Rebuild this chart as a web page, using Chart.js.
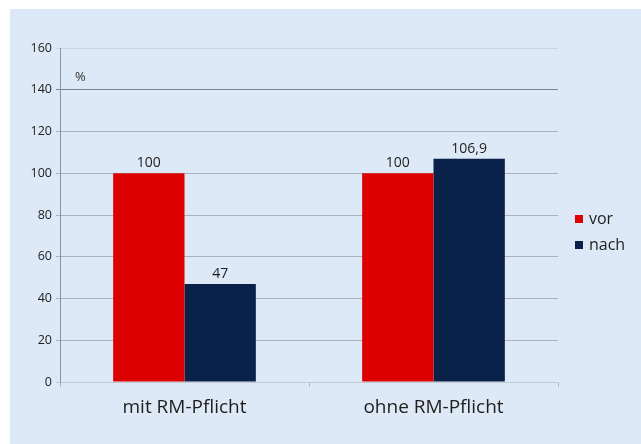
<!DOCTYPE html>
<html>
<head>
<meta charset="utf-8">
<script src="https://cdn.jsdelivr.net/npm/chart.js@4"></script>
<style>
  html, body { margin: 0; padding: 0; background: #ffffff; }
  #wrap { width: 641px; height: 444px; position: relative; }
</style>
</head>
<body>
<div id="wrap"><canvas id="c" width="641" height="444"></canvas></div>
<script>
// Kategorien und Werte (Index, vorher = 100)
const categories = ['mit RM-Pflicht', 'ohne RM-Pflicht'];
const seriesLabels = ['vor', 'nach'];
const vorValues = [100, 100];
const nachValues = [47, 106.9];
const yTicks = [0, 20, 40, 60, 80, 100, 120, 140, 160];
const colors = ['#dd0000', '#0a2149'];

const fontFamily = '"Open Sans", "Liberation Sans", sans-serif';

// Hellblauer Hintergrund mit weißem Rand oben/links
const backgroundPlugin = {
  id: 'panelBg',
  beforeDraw(chart) {
    const ctx = chart.ctx;
    ctx.save();
    ctx.fillStyle = '#ffffff';
    ctx.fillRect(0, 0, chart.width, chart.height);
    ctx.fillStyle = '#dde9f6';
    ctx.fillRect(10, 9, chart.width - 10, chart.height - 9);
    ctx.restore();
  }
};

// Wertbeschriftungen über den Balken, "%" und Legende rechts
const annotatePlugin = {
  id: 'annotate',
  afterDatasetsDraw(chart) {
    const ctx = chart.ctx;
    ctx.save();
    ctx.fillStyle = '#1e1e1e';
    ctx.font = '14px ' + fontFamily;
    ctx.textAlign = 'center';
    ctx.textBaseline = 'bottom';
    chart.data.datasets.forEach((ds, di) => {
      const meta = chart.getDatasetMeta(di);
      meta.data.forEach((bar, i) => {
        const txt = String(ds.data[i]).replace('.', ',');
        ctx.fillText(txt, bar.x, bar.y - 3);
      });
    });
    // Einheit
    const y = chart.scales.y;
    ctx.font = '13px ' + fontFamily;
    ctx.textAlign = 'left';
    ctx.textBaseline = 'middle';
    ctx.fillStyle = '#333333';
    ctx.fillText('%', chart.chartArea.left + 15, y.getPixelForValue(146));
    // Legende
    ctx.font = '16px ' + fontFamily;
    chart.data.datasets.forEach((ds, di) => {
      const cy = 219 + di * 26;
      ctx.fillStyle = ds.backgroundColor;
      ctx.fillRect(575, cy - 4, 8, 8);
      ctx.fillStyle = '#1e1e1e';
      ctx.fillText(ds.label, 589, cy);
    });
    ctx.restore();
  }
};

new Chart(document.getElementById('c'), {
  type: 'bar',
  data: {
    labels: categories,
    datasets: [
      { label: seriesLabels[0], data: vorValues, backgroundColor: colors[0] },
      { label: seriesLabels[1], data: nachValues, backgroundColor: colors[1] }
    ]
  },
  options: {
    responsive: false,
    animation: false,
    layout: { padding: { top: 48, right: 83, bottom: 0, left: 0 } },
    datasets: {
      bar: { barPercentage: 1.0, categoryPercentage: 0.573 }
    },
    plugins: {
      legend: { display: false },
      tooltip: { enabled: false }
    },
    scales: {
      x: {
        afterFit(scale) { scale.height = 62; },
        grid: {
          offset: true,
          drawOnChartArea: false,
          drawTicks: true,
          tickLength: 5,
          color: '#b4bcc6'
        },
        border: { color: '#c3cad3', width: 1 },
        ticks: {
          padding: 9,
          color: '#1e1e1e',
          font: { family: fontFamily, size: 19 }
        }
      },
      y: {
        min: 0,
        max: 160,
        afterFit(scale) { scale.width = 60; },
        afterBuildTicks(scale) { scale.ticks = yTicks.map(v => ({ value: v })); },
        grid: {
          drawTicks: true,
          tickLength: 4,
          color(ctx) {
            const v = ctx.tick ? ctx.tick.value : null;
            if (v === 160) return '#cbd5e1';
            if (v === 140) return '#7c848e';
            if (v === 0) return '#c3cad3';
            return '#a9b2bd';
          }
        },
        border: { color: '#8d949d', width: 1 },
        ticks: {
          padding: 4,
          color: '#222222',
          font: { family: fontFamily, size: 12.5 }
        }
      }
    }
  },
  plugins: [backgroundPlugin, annotatePlugin]
});
</script>
</body>
</html>
